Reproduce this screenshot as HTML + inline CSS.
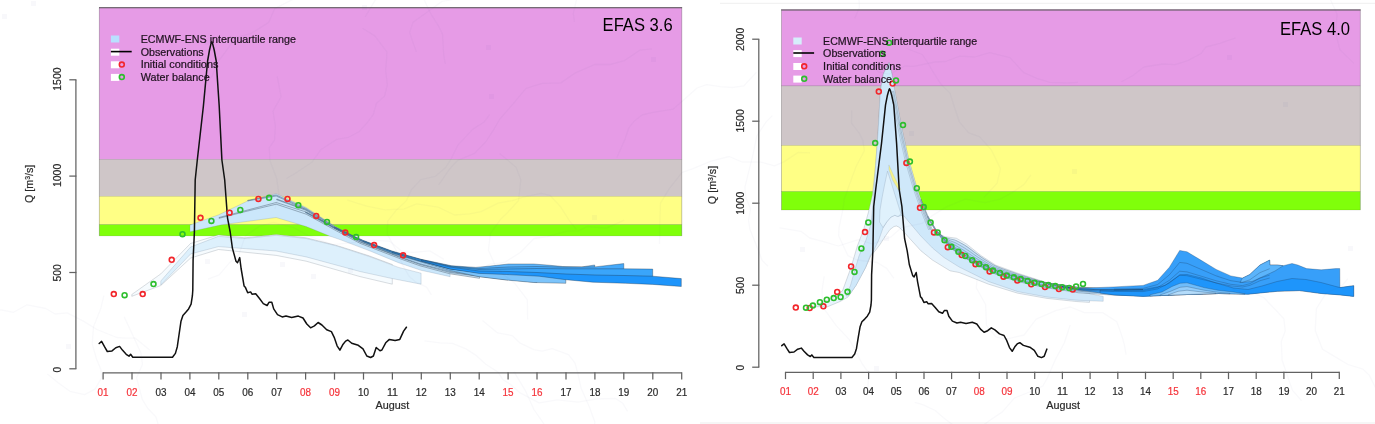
<!DOCTYPE html>
<html lang="en"><head><meta charset="utf-8"><title>EFAS 3.6 vs EFAS 4.0</title>
<style>html,body{margin:0;padding:0;background:#fff}svg{display:block;will-change:transform;opacity:0.999}text{font-family:"Liberation Sans",Arial,Helvetica,sans-serif;font-size:10px}</style>
</head><body>
<svg width="1375" height="424" viewBox="0 0 1375 424">
<rect width="1375" height="424" fill="#fff"/>
<!--MAPBG-->
<g id="left-panel">
<rect x="99.3" y="7.4" width="582.5" height="152.1" fill="#E69BE6" stroke="#000" stroke-opacity="0.17" stroke-width="0.6"/>
<rect x="99.3" y="159.5" width="582.5" height="36.8" fill="#CFC6C8" stroke="#000" stroke-opacity="0.17" stroke-width="0.6"/>
<rect x="99.3" y="196.3" width="582.5" height="28.3" fill="#FFFF85" stroke="#000" stroke-opacity="0.17" stroke-width="0.6"/>
<rect x="99.3" y="224.6" width="582.5" height="11.3" fill="#80FF0A" stroke="#000" stroke-opacity="0.17" stroke-width="0.6"/>
<line x1="99.0" y1="7.800000000000001" x2="682.0999999999999" y2="7.800000000000001" stroke="#555" stroke-width="1.1"/>
<line x1="681.8" y1="7.4" x2="681.8" y2="235.9" stroke="#555" stroke-opacity="0.35" stroke-width="0.6"/>
<line x1="99.3" y1="7.4" x2="99.3" y2="235.9" stroke="#555" stroke-opacity="0.35" stroke-width="0.6"/>
<polygon points="131.8,294.5 160.8,273.9 190.5,243.5 218.5,234.9 244.8,237.8 276.2,234.6 306.2,237.8 335.4,245.2 340.0,246.5 369.0,255.8 392.3,264.5 392.3,284.2 360.0,276.6 306.2,261.2 276.2,255.4 218.5,249.5 190.7,258.0 160.8,285.5 131.8,296.3" fill="#F6FBFE" stroke="#8a949c" stroke-width="0.4" stroke-opacity="0.8" stroke-linejoin="round"/>
<polygon points="160.8,281.0 190.5,247.1 218.5,236.3 244.8,238.5 276.2,235.3 306.2,238.5 335.4,245.6 340.0,247.0 369.0,256.4 398.5,267.4 421.1,273.2 421.1,284.2 392.0,278.5 360.0,271.5 306.2,256.9 276.2,251.0 218.5,246.6 190.7,253.9 160.8,285.0" fill="#DDF0FC" stroke="#6b7f94" stroke-width="0.4" stroke-opacity="0.55" stroke-linejoin="round"/>
<polygon points="190.0,225.1 218.5,214.9 247.7,201.0 276.2,193.7 306.2,207.5 335.4,226.5 360.0,239.7 374.1,245.0 402.9,255.3 420.0,259.3 450.1,266.0 450.1,276.7 430.0,272.2 421.0,270.3 398.5,262.7 369.0,250.6 340.0,239.6 329.6,236.0 306.2,226.5 276.2,217.5 221.4,224.8 190.0,231.7" fill="#CBE7FB" stroke="#6b7f94" stroke-width="0.4" stroke-opacity="0.55" stroke-linejoin="round"/>
<polygon points="219.0,217.5 247.7,210.0 276.2,202.5 306.2,212.0 335.4,228.0 360.0,240.5 403.0,256.0 420.0,260.5 450.0,267.5 479.5,270.0 479.5,278.3 450.0,273.8 420.0,265.8 403.0,259.8 360.0,243.3 335.4,230.3 306.2,214.2 276.2,204.2 247.7,211.0 219.0,218.3" fill="#CBE7FB" stroke="#1c2a3a" stroke-width="0.45" stroke-opacity="0.75" stroke-linejoin="round"/>
<polygon points="247.7,200.3 276.2,195.0 306.2,208.5 335.4,227.0 360.0,240.0 403.0,255.8 420.0,260.3 450.0,267.0 479.5,270.0 508.0,270.0 508.0,280.0 479.5,276.5 450.0,272.5 420.0,264.5 403.0,258.5 360.0,242.0 335.4,228.6 306.2,209.8 276.2,196.0 247.7,200.9" fill="#B4DCFB" stroke="#1c2a3a" stroke-width="0.45" stroke-opacity="0.75" stroke-linejoin="round"/>
<polygon points="276.7,199.0 306.2,209.5 335.4,227.5 360.0,240.3 403.0,255.8 420.0,260.0 450.0,267.0 479.5,269.5 508.0,269.0 537.0,270.0 537.0,282.5 508.0,279.5 479.5,276.0 450.0,271.5 420.0,263.8 403.0,258.0 360.0,241.6 335.4,228.6 306.2,210.4 276.7,199.7" fill="#B4DCFB" stroke="#1c2a3a" stroke-width="0.45" stroke-opacity="0.75" stroke-linejoin="round"/>
<polygon points="305.6,212.0 335.0,228.0 363.5,241.0 392.0,252.0 421.0,260.0 450.0,267.0 479.0,270.0 508.0,270.0 537.0,271.0 565.8,272.0 565.8,283.3 533.6,282.5 506.3,280.0 479.0,276.7 450.0,270.5 421.0,262.0 392.0,253.4 363.5,242.0 335.0,228.8 305.6,212.6" fill="#7CC4FB" stroke="#1c2a3a" stroke-width="0.45" stroke-opacity="0.75" stroke-linejoin="round"/>
<polygon points="334.5,227.0 363.5,240.5 392.0,251.0 421.0,259.3 451.8,265.8 475.8,267.4 490.0,266.1 508.5,264.0 533.6,264.0 550.0,265.3 562.6,266.5 581.8,266.9 594.7,265.0 594.7,272.0 566.0,271.5 537.0,270.0 508.0,270.0 479.0,271.0 450.0,268.5 421.0,261.0 392.0,252.0 363.5,241.3 334.5,227.6" fill="#5BB4FB" stroke="#1c2a3a" stroke-width="0.45" stroke-opacity="0.75" stroke-linejoin="round"/>
<polygon points="363.5,241.0 392.0,251.5 421.0,259.5 450.0,266.0 479.0,268.5 508.0,267.0 537.0,266.5 566.0,267.2 594.7,266.9 623.8,263.6 623.8,273.0 594.7,273.0 566.0,272.5 537.0,271.5 508.0,271.5 479.0,272.0 450.0,268.8 421.0,261.0 392.0,252.4 363.5,241.7" fill="#45A9FA" stroke="#1c2a3a" stroke-width="0.45" stroke-opacity="0.75" stroke-linejoin="round"/>
<polygon points="392.4,252.0 421.0,260.0 450.0,266.5 479.0,269.5 508.0,269.0 537.0,268.5 566.0,268.8 595.0,268.8 623.8,268.8 652.7,269.1 652.7,277.5 623.8,277.0 595.0,276.5 566.0,275.5 537.0,274.0 508.0,273.0 479.0,272.5 450.0,268.8 421.0,261.2 392.4,252.7" fill="#3AA5FA" stroke="#1c2a3a" stroke-width="0.45" stroke-opacity="0.75" stroke-linejoin="round"/>
<polygon points="421.3,260.0 450.0,267.0 479.0,271.0 508.0,271.5 537.0,272.5 566.0,274.0 595.0,275.0 624.0,275.5 652.7,276.2 681.3,278.6 681.3,286.5 652.7,284.4 625.4,283.3 592.7,282.2 565.8,279.7 539.0,276.2 506.3,274.5 479.1,273.4 450.0,269.0 421.3,260.8" fill="#1E95FB" stroke="#1c2a3a" stroke-width="0.45" stroke-opacity="0.75" stroke-linejoin="round"/>
<polyline points="99.2,343.5 101.6,341.4 104.5,346.7 107.3,351.5 112.0,350.9 115.8,347.7 119.6,346.4 122.4,350.1 126.2,354.3 129.0,356.2 130.6,354.3 132.8,357.3 172.5,357.3 175.4,353.4 177.3,346.7 179.2,333.5 181.0,321.2 182.9,315.5 185.8,312.3 188.6,308.9 191.1,304.2 192.4,295.7 192.8,290.0 193.1,260.0 194.4,232.0 195.2,180.0 197.3,160.0 203.4,106.0 207.6,61.0 209.5,50.0 211.0,43.6 211.8,41.7 212.6,43.6 214.2,50.0 216.2,61.0 219.2,106.0 221.9,160.0 224.7,180.0 227.5,217.8 230.2,232.0 232.4,248.1 236.0,261.2 237.5,262.7 239.7,257.6 241.1,268.5 244.1,286.1 245.5,287.6 247.7,292.7 250.6,291.9 252.0,294.2 255.7,293.8 259.5,298.5 263.3,303.6 267.1,305.5 269.0,302.3 271.8,302.3 273.7,308.9 277.5,314.6 282.2,316.9 286.0,316.1 291.7,317.4 298.3,316.1 303.0,318.0 306.8,324.0 310.6,327.8 314.4,325.9 318.1,322.5 321.9,325.0 326.7,329.7 331.4,331.6 334.2,337.3 337.1,345.8 339.9,350.1 342.7,344.8 345.6,341.1 347.9,340.0 351.7,343.2 358.3,345.3 363.0,348.9 366.8,356.0 370.6,357.5 373.4,356.0 376.2,347.5 380.0,350.8 381.9,350.0 385.7,342.8 389.4,339.4 395.1,340.6 399.8,339.4 403.6,331.1 406.4,327.2" fill="none" stroke="#111" stroke-width="1.5" stroke-linejoin="round" stroke-linecap="round"/>
<circle cx="113.8" cy="294.1" r="2.45" fill="none" stroke="#F2262B" stroke-width="1.6"/>
<circle cx="142.7" cy="294.1" r="2.45" fill="none" stroke="#F2262B" stroke-width="1.6"/>
<circle cx="171.7" cy="259.8" r="2.45" fill="none" stroke="#F2262B" stroke-width="1.6"/>
<circle cx="200.5" cy="217.8" r="2.45" fill="none" stroke="#F2262B" stroke-width="1.6"/>
<circle cx="229.6" cy="212.7" r="2.45" fill="none" stroke="#F2262B" stroke-width="1.6"/>
<circle cx="258.4" cy="198.9" r="2.45" fill="none" stroke="#F2262B" stroke-width="1.6"/>
<circle cx="287.5" cy="198.9" r="2.45" fill="none" stroke="#F2262B" stroke-width="1.6"/>
<circle cx="316.2" cy="215.9" r="2.45" fill="none" stroke="#F2262B" stroke-width="1.6"/>
<circle cx="345.3" cy="232.6" r="2.45" fill="none" stroke="#F2262B" stroke-width="1.6"/>
<circle cx="374.1" cy="245.1" r="2.45" fill="none" stroke="#F2262B" stroke-width="1.6"/>
<circle cx="403.1" cy="255.3" r="2.45" fill="none" stroke="#F2262B" stroke-width="1.6"/>
<circle cx="124.6" cy="295.2" r="2.45" fill="none" stroke="#2DBE2D" stroke-width="1.6"/>
<circle cx="153.5" cy="284.1" r="2.45" fill="none" stroke="#2DBE2D" stroke-width="1.6"/>
<circle cx="182.5" cy="234.2" r="2.45" fill="none" stroke="#2DBE2D" stroke-width="1.6"/>
<circle cx="211.4" cy="220.9" r="2.45" fill="none" stroke="#2DBE2D" stroke-width="1.6"/>
<circle cx="240.3" cy="209.9" r="2.45" fill="none" stroke="#2DBE2D" stroke-width="1.6"/>
<circle cx="269.1" cy="197.8" r="2.45" fill="none" stroke="#2DBE2D" stroke-width="1.6"/>
<circle cx="298.3" cy="205.2" r="2.45" fill="none" stroke="#2DBE2D" stroke-width="1.6"/>
<circle cx="327.0" cy="222.0" r="2.45" fill="none" stroke="#2DBE2D" stroke-width="1.6"/>
<circle cx="356.1" cy="236.9" r="2.45" fill="none" stroke="#2DBE2D" stroke-width="1.6"/>
<rect x="110.9" y="35.5" width="8.4" height="7" fill="#B9E0FF"/>
<text x="140.7" y="42.5" textLength="155.2" lengthAdjust="spacingAndGlyphs" fill="#1f121f" stroke="#1f121f" stroke-width="0.2">ECMWF-ENS interquartile range</text>
<rect x="110.9" y="48.7" width="8.4" height="7" fill="#fff"/>
<text x="140.7" y="55.7" textLength="63.0" lengthAdjust="spacingAndGlyphs" fill="#1f121f" stroke="#1f121f" stroke-width="0.2">Observations</text>
<rect x="110.9" y="61.3" width="8.4" height="7" fill="#fff"/>
<text x="140.7" y="68.3" textLength="77.8" lengthAdjust="spacingAndGlyphs" fill="#1f121f" stroke="#1f121f" stroke-width="0.2">Initial conditions</text>
<rect x="110.9" y="73.9" width="8.4" height="7" fill="#fff"/>
<text x="140.7" y="80.9" textLength="69.0" lengthAdjust="spacingAndGlyphs" fill="#1f121f" stroke="#1f121f" stroke-width="0.2">Water balance</text>
<path d="M110.9 51.6h20.8" stroke="#000" stroke-width="1.6" fill="none"/>
<circle cx="121.8" cy="64.6" r="2.45" fill="none" stroke="#F2262B" stroke-width="1.6"/>
<circle cx="121.8" cy="77.1" r="2.45" fill="none" stroke="#2DBE2D" stroke-width="1.6"/>
<path d="M75.9 368.8V79.8" stroke="#626262" stroke-width="1.25" fill="none"/>
<path d="M69.3 368.8H76.4" stroke="#626262" stroke-width="1.25" fill="none"/>
<text transform="translate(61.2,369.7) rotate(-90)" text-anchor="middle" textLength="5.6" lengthAdjust="spacingAndGlyphs" fill="#2b2b2b" stroke="#2b2b2b" stroke-width="0.2">0</text>
<path d="M69.3 272.5H76.4" stroke="#626262" stroke-width="1.25" fill="none"/>
<text transform="translate(61.2,272.9) rotate(-90)" text-anchor="middle" textLength="17.2" lengthAdjust="spacingAndGlyphs" fill="#2b2b2b" stroke="#2b2b2b" stroke-width="0.2">500</text>
<path d="M69.3 176.1H76.4" stroke="#626262" stroke-width="1.25" fill="none"/>
<text transform="translate(61.2,175.4) rotate(-90)" text-anchor="middle" textLength="23.2" lengthAdjust="spacingAndGlyphs" fill="#2b2b2b" stroke="#2b2b2b" stroke-width="0.2">1000</text>
<path d="M69.3 79.8H76.4" stroke="#626262" stroke-width="1.25" fill="none"/>
<text transform="translate(61.2,79.1) rotate(-90)" text-anchor="middle" textLength="23.2" lengthAdjust="spacingAndGlyphs" fill="#2b2b2b" stroke="#2b2b2b" stroke-width="0.2">1500</text>
<text transform="translate(33.2,183.9) rotate(-90)" text-anchor="middle" textLength="38.4" lengthAdjust="spacingAndGlyphs" fill="#2b2b2b" stroke="#2b2b2b" stroke-width="0.2">Q [m<tspan font-size="6.3" dy="-3.6">3</tspan><tspan dy="3.6">/s]</tspan></text>
<path d="M103.1 372.8H681.7" stroke="#626262" stroke-width="1.25" fill="none"/>
<path d="M103.1 372.3V379.6" stroke="#626262" stroke-width="1.25" fill="none"/>
<text x="103.1" y="396.3" text-anchor="middle" textLength="11" lengthAdjust="spacingAndGlyphs" fill="#F5333A" stroke="#F5333A" stroke-width="0.2">01</text>
<path d="M132.0 372.3V379.6" stroke="#626262" stroke-width="1.25" fill="none"/>
<text x="132.0" y="396.3" text-anchor="middle" textLength="11" lengthAdjust="spacingAndGlyphs" fill="#F5333A" stroke="#F5333A" stroke-width="0.2">02</text>
<path d="M161.0 372.3V379.6" stroke="#626262" stroke-width="1.25" fill="none"/>
<text x="161.0" y="396.3" text-anchor="middle" textLength="11" lengthAdjust="spacingAndGlyphs" fill="#2b2b2b" stroke="#2b2b2b" stroke-width="0.2">03</text>
<path d="M189.9 372.3V379.6" stroke="#626262" stroke-width="1.25" fill="none"/>
<text x="189.9" y="396.3" text-anchor="middle" textLength="11" lengthAdjust="spacingAndGlyphs" fill="#2b2b2b" stroke="#2b2b2b" stroke-width="0.2">04</text>
<path d="M218.8 372.3V379.6" stroke="#626262" stroke-width="1.25" fill="none"/>
<text x="218.8" y="396.3" text-anchor="middle" textLength="11" lengthAdjust="spacingAndGlyphs" fill="#2b2b2b" stroke="#2b2b2b" stroke-width="0.2">05</text>
<path d="M247.8 372.3V379.6" stroke="#626262" stroke-width="1.25" fill="none"/>
<text x="247.8" y="396.3" text-anchor="middle" textLength="11" lengthAdjust="spacingAndGlyphs" fill="#2b2b2b" stroke="#2b2b2b" stroke-width="0.2">06</text>
<path d="M276.7 372.3V379.6" stroke="#626262" stroke-width="1.25" fill="none"/>
<text x="276.7" y="396.3" text-anchor="middle" textLength="11" lengthAdjust="spacingAndGlyphs" fill="#2b2b2b" stroke="#2b2b2b" stroke-width="0.2">07</text>
<path d="M305.6 372.3V379.6" stroke="#626262" stroke-width="1.25" fill="none"/>
<text x="305.6" y="396.3" text-anchor="middle" textLength="11" lengthAdjust="spacingAndGlyphs" fill="#F5333A" stroke="#F5333A" stroke-width="0.2">08</text>
<path d="M334.5 372.3V379.6" stroke="#626262" stroke-width="1.25" fill="none"/>
<text x="334.5" y="396.3" text-anchor="middle" textLength="11" lengthAdjust="spacingAndGlyphs" fill="#F5333A" stroke="#F5333A" stroke-width="0.2">09</text>
<path d="M363.5 372.3V379.6" stroke="#626262" stroke-width="1.25" fill="none"/>
<text x="363.5" y="396.3" text-anchor="middle" textLength="11" lengthAdjust="spacingAndGlyphs" fill="#2b2b2b" stroke="#2b2b2b" stroke-width="0.2">10</text>
<path d="M392.4 372.3V379.6" stroke="#626262" stroke-width="1.25" fill="none"/>
<text x="392.4" y="396.3" text-anchor="middle" textLength="11" lengthAdjust="spacingAndGlyphs" fill="#2b2b2b" stroke="#2b2b2b" stroke-width="0.2">11</text>
<path d="M421.3 372.3V379.6" stroke="#626262" stroke-width="1.25" fill="none"/>
<text x="421.3" y="396.3" text-anchor="middle" textLength="11" lengthAdjust="spacingAndGlyphs" fill="#2b2b2b" stroke="#2b2b2b" stroke-width="0.2">12</text>
<path d="M450.3 372.3V379.6" stroke="#626262" stroke-width="1.25" fill="none"/>
<text x="450.3" y="396.3" text-anchor="middle" textLength="11" lengthAdjust="spacingAndGlyphs" fill="#2b2b2b" stroke="#2b2b2b" stroke-width="0.2">13</text>
<path d="M479.2 372.3V379.6" stroke="#626262" stroke-width="1.25" fill="none"/>
<text x="479.2" y="396.3" text-anchor="middle" textLength="11" lengthAdjust="spacingAndGlyphs" fill="#2b2b2b" stroke="#2b2b2b" stroke-width="0.2">14</text>
<path d="M508.1 372.3V379.6" stroke="#626262" stroke-width="1.25" fill="none"/>
<text x="508.1" y="396.3" text-anchor="middle" textLength="11" lengthAdjust="spacingAndGlyphs" fill="#F5333A" stroke="#F5333A" stroke-width="0.2">15</text>
<path d="M537.0 372.3V379.6" stroke="#626262" stroke-width="1.25" fill="none"/>
<text x="537.0" y="396.3" text-anchor="middle" textLength="11" lengthAdjust="spacingAndGlyphs" fill="#F5333A" stroke="#F5333A" stroke-width="0.2">16</text>
<path d="M566.0 372.3V379.6" stroke="#626262" stroke-width="1.25" fill="none"/>
<text x="566.0" y="396.3" text-anchor="middle" textLength="11" lengthAdjust="spacingAndGlyphs" fill="#2b2b2b" stroke="#2b2b2b" stroke-width="0.2">17</text>
<path d="M594.9 372.3V379.6" stroke="#626262" stroke-width="1.25" fill="none"/>
<text x="594.9" y="396.3" text-anchor="middle" textLength="11" lengthAdjust="spacingAndGlyphs" fill="#2b2b2b" stroke="#2b2b2b" stroke-width="0.2">18</text>
<path d="M623.8 372.3V379.6" stroke="#626262" stroke-width="1.25" fill="none"/>
<text x="623.8" y="396.3" text-anchor="middle" textLength="11" lengthAdjust="spacingAndGlyphs" fill="#2b2b2b" stroke="#2b2b2b" stroke-width="0.2">19</text>
<path d="M652.8 372.3V379.6" stroke="#626262" stroke-width="1.25" fill="none"/>
<text x="652.8" y="396.3" text-anchor="middle" textLength="11" lengthAdjust="spacingAndGlyphs" fill="#2b2b2b" stroke="#2b2b2b" stroke-width="0.2">20</text>
<path d="M681.7 372.3V379.6" stroke="#626262" stroke-width="1.25" fill="none"/>
<text x="681.7" y="396.3" text-anchor="middle" textLength="11" lengthAdjust="spacingAndGlyphs" fill="#2b2b2b" stroke="#2b2b2b" stroke-width="0.2">21</text>
<text x="392.4" y="409.0" text-anchor="middle" textLength="33.6" lengthAdjust="spacingAndGlyphs" fill="#2b2b2b" stroke="#2b2b2b" stroke-width="0.2">August</text>
<text x="602.6" y="31.2" textLength="70" lengthAdjust="spacingAndGlyphs" style="font-size:18px" stroke="none" fill="#000">EFAS 3.6</text>
</g>
<g id="right-panel">
<rect x="781.5" y="9.6" width="578.8" height="76.3" fill="#E69BE6" stroke="#000" stroke-opacity="0.17" stroke-width="0.6"/>
<rect x="781.5" y="85.9" width="578.8" height="59.5" fill="#CFC6C8" stroke="#000" stroke-opacity="0.17" stroke-width="0.6"/>
<rect x="781.5" y="145.4" width="578.8" height="46.1" fill="#FFFF85" stroke="#000" stroke-opacity="0.17" stroke-width="0.6"/>
<rect x="781.5" y="191.5" width="578.8" height="18.5" fill="#80FF0A" stroke="#000" stroke-opacity="0.17" stroke-width="0.6"/>
<line x1="781.2" y1="10.0" x2="1360.6" y2="10.0" stroke="#555" stroke-width="1.1"/>
<line x1="1360.3" y1="9.6" x2="1360.3" y2="210.0" stroke="#555" stroke-opacity="0.35" stroke-width="0.6"/>
<line x1="781.5" y1="9.6" x2="781.5" y2="210.0" stroke="#555" stroke-opacity="0.35" stroke-width="0.6"/>
<polygon points="812.7,306.7 831.8,298.2 842.5,290.8 851.0,267.5 857.3,246.2 863.7,229.2 868.5,212.0 872.4,195.0 875.6,165.4 878.2,130.0 880.4,90.8 883.4,73.9 889.1,62.5 891.9,73.9 894.7,90.8 900.4,121.0 903.2,135.0 909.0,160.7 917.2,189.0 925.5,212.5 932.5,230.0 944.6,236.7 956.3,238.2 966.5,244.0 981.2,255.7 995.8,265.2 1017.7,273.2 1047.0,282.7 1079.0,288.0 1089.5,290.0 1089.5,302.4 1076.2,301.5 1047.0,298.4 1017.7,293.2 988.5,284.2 959.2,272.5 950.0,270.8 932.5,260.1 920.8,250.7 909.0,237.7 903.0,231.0 899.0,227.2 896.5,226.0 894.0,226.5 890.0,229.5 885.4,236.0 880.0,244.5 875.0,251.0 870.8,255.9 865.5,267.7 856.0,285.4 847.8,297.2 840.3,301.4 827.6,306.7" fill="#E8F4FD" stroke="#8a949c" stroke-width="0.4" stroke-opacity="0.8" stroke-linejoin="round"/>
<polygon points="846.0,296.0 850.5,285.4 855.5,267.7 859.0,256.0 862.4,248.0 866.0,240.0 868.5,232.0 871.0,224.0 872.4,210.2 875.6,165.4 878.2,130.0 880.4,90.8 883.4,73.9 889.1,62.5 891.9,73.9 894.7,90.8 900.4,121.0 903.2,135.0 909.0,160.7 917.2,189.0 925.5,212.5 932.5,230.0 944.6,238.5 956.3,240.5 966.5,246.0 981.2,257.0 995.8,266.2 1017.7,274.2 1047.0,283.2 1062.0,286.2 1079.0,291.5 1103.2,296.4 1103.2,301.3 1076.2,300.2 1047.0,297.0 1017.7,291.6 988.5,281.5 959.2,267.0 944.0,257.5 932.5,248.0 920.8,236.0 909.0,222.0 904.0,216.0 901.0,215.5 898.0,216.5 894.8,215.3 891.0,217.0 887.0,221.5 883.0,228.0 878.9,239.7 874.0,250.0 870.2,255.9 865.5,267.7 856.0,285.4 849.0,295.5" fill="#CFE8FA" stroke="#6b7f94" stroke-width="0.4" stroke-opacity="0.55" stroke-linejoin="round"/>
<polygon points="887.5,171.2 891.0,182.0 895.0,195.0 898.5,206.0 901.0,214.0 898.0,216.5 894.8,215.3 891.0,217.0 887.0,221.5 883.0,227.5 879.5,222.0 880.0,210.0 882.0,198.0 884.5,185.0" fill="#DFF1FC" stroke="#6b7f94" stroke-width="0.4" stroke-opacity="0.55" stroke-linejoin="round"/>
<polygon points="888.9,164.9 894.0,176.0 900.7,189.5 898.5,190.0 892.5,180.0 888.9,169.5" fill="#F3F08A" stroke="#8a949c" stroke-width="0.3" stroke-opacity="0.6"/>
<polygon points="936.0,231.6 940.8,234.8 945.5,237.6 950.3,238.9 955.1,240.1 959.8,242.5 964.6,245.2 969.4,248.5 974.1,252.1 978.9,255.6 983.7,258.9 988.4,261.8 993.2,264.8 998.0,267.1 1002.7,268.9 1007.5,270.6 1012.3,272.2 1017.0,273.9 1021.8,275.4 1026.6,276.8 1031.3,278.3 1036.1,279.7 1040.9,281.2 1045.6,282.6 1050.4,283.5 1055.2,284.3 1059.9,285.1 1064.7,285.8 1069.5,286.6 1074.2,287.4 1079.0,288.1 1079.0,289.2 1074.2,288.5 1069.5,287.8 1064.7,287.1 1059.9,286.4 1055.2,285.8 1050.4,285.2 1045.6,284.5 1040.9,283.6 1036.1,282.7 1031.3,281.7 1026.6,280.7 1021.8,279.8 1017.0,278.5 1012.3,277.3 1007.5,276.0 1002.7,274.4 998.0,272.7 993.2,271.1 988.4,268.8 983.7,266.5 978.9,264.1 974.1,261.6 969.4,258.9 964.6,256.0 959.8,253.1 955.1,249.9 950.3,246.2 945.5,241.6 940.8,236.5 936.0,230.5" fill="#C3E1F9" stroke="#1c2a3a" stroke-width="0.4" stroke-opacity="0.6" stroke-linejoin="round"/>
<polygon points="936.0,231.2 940.8,235.2 945.5,238.6 950.3,240.8 955.1,242.6 959.8,245.2 964.6,248.0 969.4,251.2 974.1,254.5 978.9,257.8 983.7,260.8 988.4,263.6 993.2,266.4 998.0,268.5 1002.7,270.2 1007.5,271.9 1012.3,273.5 1017.0,275.0 1021.8,276.5 1026.6,277.8 1031.3,279.1 1036.1,280.4 1040.9,281.7 1045.6,283.0 1050.4,283.9 1055.2,284.6 1059.9,285.3 1064.7,286.0 1069.5,286.8 1074.2,287.6 1079.0,288.3 1079.0,289.2 1074.2,288.5 1069.5,287.8 1064.7,287.1 1059.9,286.4 1055.2,285.8 1050.4,285.2 1045.6,284.5 1040.9,283.6 1036.1,282.7 1031.3,281.7 1026.6,280.7 1021.8,279.8 1017.0,278.5 1012.3,277.3 1007.5,276.0 1002.7,274.4 998.0,272.7 993.2,271.1 988.4,268.8 983.7,266.5 978.9,264.1 974.1,261.6 969.4,258.9 964.6,256.0 959.8,253.1 955.1,249.9 950.3,246.2 945.5,241.6 940.8,236.5 936.0,230.5" fill="#B7DBF8" stroke="#1c2a3a" stroke-width="0.4" stroke-opacity="0.6" stroke-linejoin="round"/>
<polygon points="936.0,230.8 940.8,235.5 945.5,239.5 950.3,242.6 955.1,245.1 959.8,247.9 964.6,250.8 969.4,253.9 974.1,257.0 978.9,260.0 983.7,262.7 988.4,265.4 993.2,268.0 998.0,269.9 1002.7,271.6 1007.5,273.3 1012.3,274.7 1017.0,276.2 1021.8,277.5 1026.6,278.7 1031.3,279.9 1036.1,281.1 1040.9,282.2 1045.6,283.4 1050.4,284.2 1055.2,284.9 1059.9,285.6 1064.7,286.3 1069.5,287.0 1074.2,287.8 1079.0,288.5 1079.0,289.2 1074.2,288.5 1069.5,287.8 1064.7,287.1 1059.9,286.4 1055.2,285.8 1050.4,285.2 1045.6,284.5 1040.9,283.6 1036.1,282.7 1031.3,281.7 1026.6,280.7 1021.8,279.8 1017.0,278.5 1012.3,277.3 1007.5,276.0 1002.7,274.4 998.0,272.7 993.2,271.1 988.4,268.8 983.7,266.5 978.9,264.1 974.1,261.6 969.4,258.9 964.6,256.0 959.8,253.1 955.1,249.9 950.3,246.2 945.5,241.6 940.8,236.5 936.0,230.5" fill="#ABD5F7" stroke="#1c2a3a" stroke-width="0.4" stroke-opacity="0.6" stroke-linejoin="round"/>
<polygon points="936.0,230.5 940.8,235.8 945.5,240.4 950.3,244.3 955.1,247.4 959.8,250.4 964.6,253.3 969.4,256.3 974.1,259.2 978.9,262.0 983.7,264.5 988.4,267.0 993.2,269.4 998.0,271.2 1002.7,272.9 1007.5,274.5 1012.3,275.8 1017.0,277.2 1021.8,278.5 1026.6,279.6 1031.3,280.7 1036.1,281.7 1040.9,282.7 1045.6,283.8 1050.4,284.6 1055.2,285.2 1059.9,285.8 1064.7,286.5 1069.5,287.2 1074.2,287.9 1079.0,288.7 1079.0,289.2 1074.2,288.5 1069.5,287.8 1064.7,287.1 1059.9,286.4 1055.2,285.8 1050.4,285.2 1045.6,284.5 1040.9,283.6 1036.1,282.7 1031.3,281.7 1026.6,280.7 1021.8,279.8 1017.0,278.5 1012.3,277.3 1007.5,276.0 1002.7,274.4 998.0,272.7 993.2,271.1 988.4,268.8 983.7,266.5 978.9,264.1 974.1,261.6 969.4,258.9 964.6,256.0 959.8,253.1 955.1,249.9 950.3,246.2 945.5,241.6 940.8,236.5 936.0,230.5" fill="#9FCFF6" stroke="#1c2a3a" stroke-width="0.4" stroke-opacity="0.6" stroke-linejoin="round"/>
<polygon points="921.0,199.4 928.5,217.4 936.0,229.7 943.5,238.6 951.0,245.9 958.5,251.3 966.0,255.8 973.5,260.2 981.0,264.0 988.5,267.6 996.0,270.8 1003.5,273.3 1011.0,275.5 1018.5,277.4 1026.0,279.1 1033.5,280.6 1041.0,281.9 1048.5,283.3 1056.0,284.1 1063.5,285.0 1071.0,286.1 1078.5,287.2 1086.0,287.5 1093.5,287.8 1101.0,288.1 1108.5,288.4 1116.0,288.6 1123.5,288.6 1131.0,288.5 1131.0,295.5 1123.5,295.4 1116.0,295.2 1108.5,294.8 1101.0,294.3 1093.5,293.8 1086.0,293.3 1078.5,292.8 1071.0,291.5 1063.5,290.3 1056.0,289.2 1048.5,288.2 1041.0,286.6 1033.5,285.1 1026.0,283.4 1018.5,281.6 1011.0,279.4 1003.5,277.0 996.0,274.3 988.5,270.9 981.0,267.1 973.5,263.1 966.0,258.6 958.5,253.8 951.0,248.3 943.5,240.8 936.0,231.7 928.5,219.2 921.0,201.0" fill="#BBDDF8" stroke="#1c2a3a" stroke-width="0.4" stroke-opacity="0.65" stroke-linejoin="round"/>
<polygon points="928.0,216.3 936.2,230.1 944.4,239.7 952.6,247.4 960.9,252.8 969.1,257.8 977.3,262.3 985.5,266.4 993.7,270.2 1001.9,273.0 1010.1,275.6 1018.4,277.7 1026.6,279.5 1034.8,281.2 1043.0,282.7 1051.2,284.0 1059.4,285.0 1067.6,286.1 1075.9,287.3 1084.1,287.9 1092.3,288.3 1100.5,288.6 1108.7,289.0 1116.9,289.2 1125.1,289.2 1133.4,289.1 1141.6,289.1 1149.8,289.0 1158.0,289.0 1158.0,294.0 1149.8,293.9 1141.6,293.8 1133.4,293.7 1125.1,293.6 1116.9,293.5 1108.7,293.2 1100.5,292.7 1092.3,292.2 1084.1,291.7 1075.9,290.9 1067.6,289.6 1059.4,288.3 1051.2,287.2 1043.0,285.8 1034.8,284.2 1026.6,282.4 1018.4,280.4 1010.1,278.1 1001.9,275.5 993.7,272.5 985.5,268.5 977.3,264.4 969.1,259.7 960.9,254.6 952.6,249.0 944.4,241.2 936.2,231.4 928.0,217.5" fill="#A9D4F7" stroke="#1c2a3a" stroke-width="0.4" stroke-opacity="0.65" stroke-linejoin="round"/>
<polygon points="936.0,229.6 944.4,239.6 952.9,247.4 961.3,253.0 969.7,258.1 978.1,262.7 986.6,266.8 995.0,270.6 1003.4,273.5 1011.9,275.9 1020.3,278.2 1028.7,279.9 1037.1,281.6 1045.6,283.1 1054.0,284.3 1062.4,285.3 1070.9,286.5 1079.3,287.7 1087.7,288.1 1096.1,288.5 1104.6,288.8 1113.0,289.2 1121.4,289.2 1129.9,289.2 1138.3,289.1 1146.7,289.1 1155.1,289.1 1163.6,289.0 1172.0,289.0 1172.0,293.0 1163.6,292.9 1155.1,292.9 1146.7,292.8 1138.3,292.7 1129.9,292.6 1121.4,292.6 1113.0,292.5 1104.6,292.0 1096.1,291.5 1087.7,291.0 1079.3,290.5 1070.9,289.2 1062.4,287.9 1054.0,286.8 1045.6,285.5 1037.1,283.9 1028.7,282.1 1020.3,280.2 1011.9,277.9 1003.4,275.3 995.0,272.3 986.6,268.4 978.1,264.2 969.7,259.5 961.3,254.3 952.9,248.6 944.4,240.7 936.0,230.6" fill="#98CBF6" stroke="#1c2a3a" stroke-width="0.4" stroke-opacity="0.65" stroke-linejoin="round"/>
<polyline points="893.5,90.8 899.2,121.0 902.0,135.0 907.8,160.7 916.0,189.0 924.3,212.5 931.3,230.0" fill="none" stroke="#1c2a3a" stroke-opacity="0.55" stroke-width="0.45"/>
<polyline points="892.3,90.8 898.0,121.0 900.8,135.0 906.6,160.7 914.8,189.0 923.1,212.5 930.1,230.0" fill="none" stroke="#1c2a3a" stroke-opacity="0.45" stroke-width="0.45"/>
<polyline points="890.9,90.8 896.6,121.0 899.4,135.0 905.2,160.7 913.4,189.0 921.7,212.5 928.7,230.0" fill="none" stroke="#1c2a3a" stroke-opacity="0.35" stroke-width="0.45"/>
<polygon points="1062.0,286.0 1078.8,288.4 1113.9,286.9 1143.1,285.4 1157.7,280.3 1169.4,267.2 1179.7,250.4 1187.0,251.8 1201.6,260.6 1216.2,269.4 1230.8,275.9 1242.5,278.1 1249.8,274.5 1260.0,265.0 1269.7,260.1 1269.9,265.0 1277.3,265.0 1283.2,265.7 1292.0,263.5 1297.8,265.0 1306.6,268.6 1321.2,269.8 1335.8,268.6 1339.8,268.6 1339.9,287.6 1353.7,285.7 1353.7,296.4 1340.2,294.9 1321.2,293.5 1299.3,290.6 1277.3,291.3 1262.7,292.7 1248.1,294.2 1218.9,293.5 1175.0,294.9 1143.1,296.4 1113.9,294.9 1078.8,289.8 1062.0,287.0" fill="#379FF9" stroke="#16324f" stroke-width="0.45" stroke-opacity="0.6" stroke-linejoin="round"/>
<polygon points="1100.0,290.2 1143.0,289.5 1165.0,285.5 1180.0,274.8 1187.0,274.5 1201.6,278.0 1216.2,283.0 1233.5,288.0 1248.0,289.5 1262.0,286.0 1277.0,281.5 1292.0,278.5 1306.0,279.5 1321.0,282.5 1339.9,287.6 1353.7,285.7 1353.7,296.4 1340.2,294.9 1321.2,293.5 1299.3,290.6 1277.3,291.3 1262.7,292.7 1248.1,294.2 1218.9,293.5 1175.0,294.9 1143.1,296.4 1113.9,294.9 1100.0,293.0" fill="#1E95FB" stroke="#16324f" stroke-width="0.45" stroke-opacity="0.6" stroke-linejoin="round"/>
<polygon points="1150.0,294.8 1162.0,292.0 1172.0,286.5 1180.0,283.3 1187.0,282.8 1204.0,287.6 1218.0,290.3 1233.5,292.0 1245.0,293.8 1245.0,294.2 1218.9,293.5 1175.0,294.9 1150.0,296.0" fill="#6FBDFB" stroke="#16324f" stroke-width="0.45" stroke-opacity="0.6" stroke-linejoin="round"/>
<polygon points="1160.0,295.0 1170.0,291.5 1180.0,287.3 1187.0,286.6 1204.0,290.2 1218.0,292.3 1230.0,293.3 1230.0,293.8 1218.9,293.5 1175.0,294.9 1160.0,295.6" fill="#93CDFB" stroke="#16324f" stroke-width="0.45" stroke-opacity="0.6" stroke-linejoin="round"/>
<polygon points="1168.0,295.0 1178.0,291.3 1187.0,290.2 1204.0,292.2 1216.0,293.2 1216.0,293.6 1175.0,294.9 1168.0,295.3" fill="#B4DCFB" stroke="#16324f" stroke-width="0.45" stroke-opacity="0.6" stroke-linejoin="round"/>
<polygon points="1242.5,278.1 1249.8,274.5 1260.0,265.0 1269.7,260.1 1269.9,265.0 1277.3,265.0 1283.2,265.7 1275.0,271.0 1262.0,277.0 1252.0,281.5 1240.0,282.5" fill="#5BB4FB" stroke="#16324f" stroke-width="0.45" stroke-opacity="0.6" stroke-linejoin="round"/>
<polyline points="1113.9,289.1 1143.1,288.4 1157.7,284.5 1169.4,274.8 1179.7,262.4 1187.0,263.3 1201.6,269.6 1216.2,275.9 1230.8,280.7 1242.5,282.4 1249.8,279.8 1260.0,272.6 1269.7,268.7" fill="none" stroke="#16324f" stroke-opacity="0.6" stroke-width="0.45"/>
<polyline points="1113.9,290.7 1143.1,290.6 1157.7,287.5 1169.4,280.3 1179.7,271.2 1187.0,271.9 1201.6,276.3 1216.2,280.8 1230.8,284.3 1242.5,285.6 1249.8,283.7 1260.0,278.1 1269.7,275.1" fill="none" stroke="#16324f" stroke-opacity="0.6" stroke-width="0.45"/>
<polyline points="1113.9,291.4 1143.1,291.6 1157.7,288.9 1169.4,282.9 1179.7,275.2 1187.0,275.7 1201.6,279.3 1216.2,282.9 1230.8,285.9 1242.5,287.0 1249.8,285.4 1260.0,280.7 1269.7,278.0" fill="none" stroke="#16324f" stroke-opacity="0.6" stroke-width="0.45"/>
<polyline points="1048.0,284.4 1062.3,286.6 1076.2,288.6 1095.0,289.6 1113.9,289.8 1143.0,289.6" fill="none" stroke="#101c2c" stroke-opacity="0.75" stroke-width="0.6"/>
<polyline points="1062.3,287.3 1076.2,289.4 1095.0,290.8 1113.9,291.4" fill="none" stroke="#101c2c" stroke-opacity="0.6" stroke-width="0.5"/>
<polyline points="781.8,345.7 784.1,343.9 786.8,348.4 789.5,352.5 794.0,352.0 797.7,349.2 801.3,348.1 804.0,351.3 807.6,354.9 810.3,356.5 811.8,354.9 813.9,357.4 851.9,357.4 854.7,354.1 856.5,348.4 858.3,337.2 860.1,326.7 861.9,321.8 864.7,319.1 867.3,316.2 869.7,312.2 871.0,305.0 871.4,300.1 871.6,274.6 872.9,250.8 873.7,206.5 875.7,189.5 881.5,143.5 885.5,105.2 887.3,95.8 888.8,90.4 889.5,88.8 890.3,90.4 891.8,95.8 893.8,105.2 896.6,143.5 899.2,189.5 901.9,206.5 904.6,238.7 907.2,250.8 909.3,264.5 912.7,275.6 914.1,276.9 916.2,272.5 917.6,281.8 920.5,296.8 921.8,298.1 923.9,302.4 926.7,301.7 928.0,303.7 931.6,303.4 935.2,307.4 938.8,311.7 942.5,313.3 944.3,310.6 947.0,310.6 948.8,316.2 952.4,321.1 956.9,323.0 960.6,322.3 966.0,323.4 972.3,322.3 976.8,324.0 980.5,329.1 984.1,332.3 987.7,330.7 991.3,327.8 994.9,329.9 999.5,333.9 1004.0,335.5 1006.7,340.4 1009.5,347.6 1012.2,351.3 1014.8,346.8 1017.6,343.6 1019.8,342.7 1023.4,345.4 1029.8,347.2 1034.3,350.3 1037.9,356.3 1041.5,357.6 1044.2,356.3 1046.9,349.1" fill="none" stroke="#111" stroke-width="1.5" stroke-linejoin="round" stroke-linecap="round"/>
<circle cx="795.8" cy="307.6" r="2.45" fill="none" stroke="#F2262B" stroke-width="1.6"/>
<circle cx="809.7" cy="308.0" r="2.45" fill="none" stroke="#F2262B" stroke-width="1.6"/>
<circle cx="823.4" cy="306.3" r="2.45" fill="none" stroke="#F2262B" stroke-width="1.6"/>
<circle cx="837.2" cy="291.9" r="2.45" fill="none" stroke="#F2262B" stroke-width="1.6"/>
<circle cx="851.1" cy="266.4" r="2.45" fill="none" stroke="#F2262B" stroke-width="1.6"/>
<circle cx="865.0" cy="232.1" r="2.45" fill="none" stroke="#F2262B" stroke-width="1.6"/>
<circle cx="878.8" cy="91.6" r="2.45" fill="none" stroke="#F2262B" stroke-width="1.6"/>
<circle cx="892.6" cy="83.6" r="2.45" fill="none" stroke="#F2262B" stroke-width="1.6"/>
<circle cx="906.4" cy="162.9" r="2.45" fill="none" stroke="#F2262B" stroke-width="1.6"/>
<circle cx="920.0" cy="207.8" r="2.45" fill="none" stroke="#F2262B" stroke-width="1.6"/>
<circle cx="934.0" cy="232.4" r="2.45" fill="none" stroke="#F2262B" stroke-width="1.6"/>
<circle cx="947.8" cy="247.2" r="2.45" fill="none" stroke="#F2262B" stroke-width="1.6"/>
<circle cx="961.7" cy="255.0" r="2.45" fill="none" stroke="#F2262B" stroke-width="1.6"/>
<circle cx="975.5" cy="264.2" r="2.45" fill="none" stroke="#F2262B" stroke-width="1.6"/>
<circle cx="989.6" cy="271.4" r="2.45" fill="none" stroke="#F2262B" stroke-width="1.6"/>
<circle cx="1003.5" cy="276.7" r="2.45" fill="none" stroke="#F2262B" stroke-width="1.6"/>
<circle cx="1017.3" cy="280.6" r="2.45" fill="none" stroke="#F2262B" stroke-width="1.6"/>
<circle cx="1031.2" cy="284.3" r="2.45" fill="none" stroke="#F2262B" stroke-width="1.6"/>
<circle cx="1045.0" cy="287.0" r="2.45" fill="none" stroke="#F2262B" stroke-width="1.6"/>
<circle cx="1058.9" cy="289.1" r="2.45" fill="none" stroke="#F2262B" stroke-width="1.6"/>
<circle cx="1072.7" cy="289.6" r="2.45" fill="none" stroke="#F2262B" stroke-width="1.6"/>
<circle cx="806.0" cy="307.7" r="2.45" fill="none" stroke="#2DBE2D" stroke-width="1.6"/>
<circle cx="812.9" cy="305.6" r="2.45" fill="none" stroke="#2DBE2D" stroke-width="1.6"/>
<circle cx="819.9" cy="302.2" r="2.45" fill="none" stroke="#2DBE2D" stroke-width="1.6"/>
<circle cx="826.8" cy="299.7" r="2.45" fill="none" stroke="#2DBE2D" stroke-width="1.6"/>
<circle cx="833.7" cy="298.1" r="2.45" fill="none" stroke="#2DBE2D" stroke-width="1.6"/>
<circle cx="840.6" cy="297.0" r="2.45" fill="none" stroke="#2DBE2D" stroke-width="1.6"/>
<circle cx="847.5" cy="291.8" r="2.45" fill="none" stroke="#2DBE2D" stroke-width="1.6"/>
<circle cx="854.5" cy="271.9" r="2.45" fill="none" stroke="#2DBE2D" stroke-width="1.6"/>
<circle cx="861.4" cy="248.4" r="2.45" fill="none" stroke="#2DBE2D" stroke-width="1.6"/>
<circle cx="868.3" cy="222.4" r="2.45" fill="none" stroke="#2DBE2D" stroke-width="1.6"/>
<circle cx="875.2" cy="143.1" r="2.45" fill="none" stroke="#2DBE2D" stroke-width="1.6"/>
<circle cx="882.2" cy="53.8" r="2.45" fill="none" stroke="#2DBE2D" stroke-width="1.6"/>
<circle cx="889.1" cy="42.7" r="2.45" fill="none" stroke="#2DBE2D" stroke-width="1.6"/>
<circle cx="896.0" cy="80.4" r="2.45" fill="none" stroke="#2DBE2D" stroke-width="1.6"/>
<circle cx="903.0" cy="125.1" r="2.45" fill="none" stroke="#2DBE2D" stroke-width="1.6"/>
<circle cx="909.9" cy="161.6" r="2.45" fill="none" stroke="#2DBE2D" stroke-width="1.6"/>
<circle cx="916.8" cy="188.2" r="2.45" fill="none" stroke="#2DBE2D" stroke-width="1.6"/>
<circle cx="923.7" cy="207.1" r="2.45" fill="none" stroke="#2DBE2D" stroke-width="1.6"/>
<circle cx="930.6" cy="222.5" r="2.45" fill="none" stroke="#2DBE2D" stroke-width="1.6"/>
<circle cx="937.6" cy="232.4" r="2.45" fill="none" stroke="#2DBE2D" stroke-width="1.6"/>
<circle cx="944.5" cy="240.2" r="2.45" fill="none" stroke="#2DBE2D" stroke-width="1.6"/>
<circle cx="951.4" cy="246.8" r="2.45" fill="none" stroke="#2DBE2D" stroke-width="1.6"/>
<circle cx="958.4" cy="251.8" r="2.45" fill="none" stroke="#2DBE2D" stroke-width="1.6"/>
<circle cx="965.3" cy="256.0" r="2.45" fill="none" stroke="#2DBE2D" stroke-width="1.6"/>
<circle cx="972.2" cy="260.2" r="2.45" fill="none" stroke="#2DBE2D" stroke-width="1.6"/>
<circle cx="979.1" cy="263.9" r="2.45" fill="none" stroke="#2DBE2D" stroke-width="1.6"/>
<circle cx="986.0" cy="267.2" r="2.45" fill="none" stroke="#2DBE2D" stroke-width="1.6"/>
<circle cx="993.0" cy="270.6" r="2.45" fill="none" stroke="#2DBE2D" stroke-width="1.6"/>
<circle cx="999.9" cy="273.0" r="2.45" fill="none" stroke="#2DBE2D" stroke-width="1.6"/>
<circle cx="1006.8" cy="275.4" r="2.45" fill="none" stroke="#2DBE2D" stroke-width="1.6"/>
<circle cx="1013.8" cy="277.3" r="2.45" fill="none" stroke="#2DBE2D" stroke-width="1.6"/>
<circle cx="1020.7" cy="279.1" r="2.45" fill="none" stroke="#2DBE2D" stroke-width="1.6"/>
<circle cx="1027.6" cy="281.0" r="2.45" fill="none" stroke="#2DBE2D" stroke-width="1.6"/>
<circle cx="1034.5" cy="282.8" r="2.45" fill="none" stroke="#2DBE2D" stroke-width="1.6"/>
<circle cx="1041.5" cy="284.0" r="2.45" fill="none" stroke="#2DBE2D" stroke-width="1.6"/>
<circle cx="1048.4" cy="285.1" r="2.45" fill="none" stroke="#2DBE2D" stroke-width="1.6"/>
<circle cx="1055.3" cy="286.1" r="2.45" fill="none" stroke="#2DBE2D" stroke-width="1.6"/>
<circle cx="1062.2" cy="287.2" r="2.45" fill="none" stroke="#2DBE2D" stroke-width="1.6"/>
<circle cx="1069.2" cy="288.0" r="2.45" fill="none" stroke="#2DBE2D" stroke-width="1.6"/>
<circle cx="1076.1" cy="286.5" r="2.45" fill="none" stroke="#2DBE2D" stroke-width="1.6"/>
<circle cx="1083.0" cy="283.9" r="2.45" fill="none" stroke="#2DBE2D" stroke-width="1.6"/>
<rect x="793.3" y="37.5" width="8.4" height="7" fill="#D6EEFB"/>
<text x="823.1" y="44.5" textLength="154.0" lengthAdjust="spacingAndGlyphs" fill="#1f121f" stroke="#1f121f" stroke-width="0.2">ECMWF-ENS interquartile range</text>
<rect x="793.3" y="50.1" width="8.4" height="7" fill="#fff"/>
<text x="823.1" y="57.1" textLength="63.0" lengthAdjust="spacingAndGlyphs" fill="#1f121f" stroke="#1f121f" stroke-width="0.2">Observations</text>
<rect x="793.3" y="63.0" width="8.4" height="7" fill="#fff"/>
<text x="823.1" y="70.0" textLength="77.8" lengthAdjust="spacingAndGlyphs" fill="#1f121f" stroke="#1f121f" stroke-width="0.2">Initial conditions</text>
<rect x="793.3" y="75.6" width="8.4" height="7" fill="#fff"/>
<text x="823.1" y="82.6" textLength="69.0" lengthAdjust="spacingAndGlyphs" fill="#1f121f" stroke="#1f121f" stroke-width="0.2">Water balance</text>
<path d="M793.3 53.0h20.8" stroke="#000" stroke-width="1.6" fill="none"/>
<circle cx="804.2" cy="66.3" r="2.45" fill="none" stroke="#F2262B" stroke-width="1.6"/>
<circle cx="804.2" cy="78.8" r="2.45" fill="none" stroke="#2DBE2D" stroke-width="1.6"/>
<path d="M758.8 367.2V39.2" stroke="#626262" stroke-width="1.25" fill="none"/>
<path d="M752.2 367.2H759.3" stroke="#626262" stroke-width="1.25" fill="none"/>
<text transform="translate(744.2,367.8) rotate(-90)" text-anchor="middle" textLength="5.6" lengthAdjust="spacingAndGlyphs" fill="#2b2b2b" stroke="#2b2b2b" stroke-width="0.2">0</text>
<path d="M752.2 285.2H759.3" stroke="#626262" stroke-width="1.25" fill="none"/>
<text transform="translate(744.2,285.4) rotate(-90)" text-anchor="middle" textLength="17.2" lengthAdjust="spacingAndGlyphs" fill="#2b2b2b" stroke="#2b2b2b" stroke-width="0.2">500</text>
<path d="M752.2 203.2H759.3" stroke="#626262" stroke-width="1.25" fill="none"/>
<text transform="translate(744.2,203.2) rotate(-90)" text-anchor="middle" textLength="23.2" lengthAdjust="spacingAndGlyphs" fill="#2b2b2b" stroke="#2b2b2b" stroke-width="0.2">1000</text>
<path d="M752.2 121.2H759.3" stroke="#626262" stroke-width="1.25" fill="none"/>
<text transform="translate(744.2,120.9) rotate(-90)" text-anchor="middle" textLength="23.2" lengthAdjust="spacingAndGlyphs" fill="#2b2b2b" stroke="#2b2b2b" stroke-width="0.2">1500</text>
<path d="M752.2 39.2H759.3" stroke="#626262" stroke-width="1.25" fill="none"/>
<text transform="translate(744.2,39.4) rotate(-90)" text-anchor="middle" textLength="23.2" lengthAdjust="spacingAndGlyphs" fill="#2b2b2b" stroke="#2b2b2b" stroke-width="0.2">2000</text>
<text transform="translate(716.3,185.0) rotate(-90)" text-anchor="middle" textLength="38.4" lengthAdjust="spacingAndGlyphs" fill="#2b2b2b" stroke="#2b2b2b" stroke-width="0.2">Q [m<tspan font-size="6.3" dy="-3.6">3</tspan><tspan dy="3.6">/s]</tspan></text>
<path d="M785.5 372.3H1339.3" stroke="#626262" stroke-width="1.25" fill="none"/>
<path d="M785.5 371.8V379.1" stroke="#626262" stroke-width="1.25" fill="none"/>
<text x="785.5" y="395.2" text-anchor="middle" textLength="11" lengthAdjust="spacingAndGlyphs" fill="#F5333A" stroke="#F5333A" stroke-width="0.2">01</text>
<path d="M813.2 371.8V379.1" stroke="#626262" stroke-width="1.25" fill="none"/>
<text x="813.2" y="395.2" text-anchor="middle" textLength="11" lengthAdjust="spacingAndGlyphs" fill="#F5333A" stroke="#F5333A" stroke-width="0.2">02</text>
<path d="M840.9 371.8V379.1" stroke="#626262" stroke-width="1.25" fill="none"/>
<text x="840.9" y="395.2" text-anchor="middle" textLength="11" lengthAdjust="spacingAndGlyphs" fill="#2b2b2b" stroke="#2b2b2b" stroke-width="0.2">03</text>
<path d="M868.6 371.8V379.1" stroke="#626262" stroke-width="1.25" fill="none"/>
<text x="868.6" y="395.2" text-anchor="middle" textLength="11" lengthAdjust="spacingAndGlyphs" fill="#2b2b2b" stroke="#2b2b2b" stroke-width="0.2">04</text>
<path d="M896.3 371.8V379.1" stroke="#626262" stroke-width="1.25" fill="none"/>
<text x="896.3" y="395.2" text-anchor="middle" textLength="11" lengthAdjust="spacingAndGlyphs" fill="#2b2b2b" stroke="#2b2b2b" stroke-width="0.2">05</text>
<path d="M924.0 371.8V379.1" stroke="#626262" stroke-width="1.25" fill="none"/>
<text x="924.0" y="395.2" text-anchor="middle" textLength="11" lengthAdjust="spacingAndGlyphs" fill="#2b2b2b" stroke="#2b2b2b" stroke-width="0.2">06</text>
<path d="M951.6 371.8V379.1" stroke="#626262" stroke-width="1.25" fill="none"/>
<text x="951.6" y="395.2" text-anchor="middle" textLength="11" lengthAdjust="spacingAndGlyphs" fill="#2b2b2b" stroke="#2b2b2b" stroke-width="0.2">07</text>
<path d="M979.3 371.8V379.1" stroke="#626262" stroke-width="1.25" fill="none"/>
<text x="979.3" y="395.2" text-anchor="middle" textLength="11" lengthAdjust="spacingAndGlyphs" fill="#F5333A" stroke="#F5333A" stroke-width="0.2">08</text>
<path d="M1007.0 371.8V379.1" stroke="#626262" stroke-width="1.25" fill="none"/>
<text x="1007.0" y="395.2" text-anchor="middle" textLength="11" lengthAdjust="spacingAndGlyphs" fill="#F5333A" stroke="#F5333A" stroke-width="0.2">09</text>
<path d="M1034.7 371.8V379.1" stroke="#626262" stroke-width="1.25" fill="none"/>
<text x="1034.7" y="395.2" text-anchor="middle" textLength="11" lengthAdjust="spacingAndGlyphs" fill="#2b2b2b" stroke="#2b2b2b" stroke-width="0.2">10</text>
<path d="M1062.4 371.8V379.1" stroke="#626262" stroke-width="1.25" fill="none"/>
<text x="1062.4" y="395.2" text-anchor="middle" textLength="11" lengthAdjust="spacingAndGlyphs" fill="#2b2b2b" stroke="#2b2b2b" stroke-width="0.2">11</text>
<path d="M1090.1 371.8V379.1" stroke="#626262" stroke-width="1.25" fill="none"/>
<text x="1090.1" y="395.2" text-anchor="middle" textLength="11" lengthAdjust="spacingAndGlyphs" fill="#2b2b2b" stroke="#2b2b2b" stroke-width="0.2">12</text>
<path d="M1117.8 371.8V379.1" stroke="#626262" stroke-width="1.25" fill="none"/>
<text x="1117.8" y="395.2" text-anchor="middle" textLength="11" lengthAdjust="spacingAndGlyphs" fill="#2b2b2b" stroke="#2b2b2b" stroke-width="0.2">13</text>
<path d="M1145.5 371.8V379.1" stroke="#626262" stroke-width="1.25" fill="none"/>
<text x="1145.5" y="395.2" text-anchor="middle" textLength="11" lengthAdjust="spacingAndGlyphs" fill="#2b2b2b" stroke="#2b2b2b" stroke-width="0.2">14</text>
<path d="M1173.2 371.8V379.1" stroke="#626262" stroke-width="1.25" fill="none"/>
<text x="1173.2" y="395.2" text-anchor="middle" textLength="11" lengthAdjust="spacingAndGlyphs" fill="#F5333A" stroke="#F5333A" stroke-width="0.2">15</text>
<path d="M1200.8 371.8V379.1" stroke="#626262" stroke-width="1.25" fill="none"/>
<text x="1200.8" y="395.2" text-anchor="middle" textLength="11" lengthAdjust="spacingAndGlyphs" fill="#F5333A" stroke="#F5333A" stroke-width="0.2">16</text>
<path d="M1228.5 371.8V379.1" stroke="#626262" stroke-width="1.25" fill="none"/>
<text x="1228.5" y="395.2" text-anchor="middle" textLength="11" lengthAdjust="spacingAndGlyphs" fill="#2b2b2b" stroke="#2b2b2b" stroke-width="0.2">17</text>
<path d="M1256.2 371.8V379.1" stroke="#626262" stroke-width="1.25" fill="none"/>
<text x="1256.2" y="395.2" text-anchor="middle" textLength="11" lengthAdjust="spacingAndGlyphs" fill="#2b2b2b" stroke="#2b2b2b" stroke-width="0.2">18</text>
<path d="M1283.9 371.8V379.1" stroke="#626262" stroke-width="1.25" fill="none"/>
<text x="1283.9" y="395.2" text-anchor="middle" textLength="11" lengthAdjust="spacingAndGlyphs" fill="#2b2b2b" stroke="#2b2b2b" stroke-width="0.2">19</text>
<path d="M1311.6 371.8V379.1" stroke="#626262" stroke-width="1.25" fill="none"/>
<text x="1311.6" y="395.2" text-anchor="middle" textLength="11" lengthAdjust="spacingAndGlyphs" fill="#2b2b2b" stroke="#2b2b2b" stroke-width="0.2">20</text>
<path d="M1339.3 371.8V379.1" stroke="#626262" stroke-width="1.25" fill="none"/>
<text x="1339.3" y="395.2" text-anchor="middle" textLength="11" lengthAdjust="spacingAndGlyphs" fill="#2b2b2b" stroke="#2b2b2b" stroke-width="0.2">21</text>
<text x="1063.1" y="408.5" text-anchor="middle" textLength="33.6" lengthAdjust="spacingAndGlyphs" fill="#2b2b2b" stroke="#2b2b2b" stroke-width="0.2">August</text>
<text x="1280" y="34.5" textLength="70" lengthAdjust="spacingAndGlyphs" style="font-size:18px" stroke="none" fill="#000">EFAS 4.0</text>
</g>
<g id="watermark" fill="none" stroke="#4a4a8a" stroke-opacity="0.035" stroke-width="1.3" stroke-linejoin="round"><polyline points="445.3,64.0 443.7,54.8 442.5,34.1 438.4,25.8 432.3,16.2 428.1,8.5 419.6,-11.0 416.0,-26.8 404.0,-37.6 393.0,-38.7 383.3,-40.5"/><polyline points="576.3,229.3 569.7,221.1 560.6,206.8 549.9,195.3 541.3,193.4 524.1,196.9 512.3,200.6 498.1,203.2 481.0,211.7 469.8,213.8 454.5,215.0 438.1,207.2 416.6,203.9 403.7,209.1 393.6,209.4 385.1,209.8 366.7,206.1 347.4,200.2"/><polyline points="431.4,294.8 426.6,287.2 416.0,282.2 409.2,276.4 403.0,265.7 395.8,249.7 387.2,233.9 387.7,221.1 395.7,210.8 406.5,200.6 411.5,189.6 420.7,179.7 435.3,176.3 445.7,167.5 451.0,159.1 458.0,145.0 472.9,129.1 484.2,122.0 489.6,114.6"/><polyline points="208.0,279.2 219.2,274.9 229.2,263.1 238.7,255.0 245.3,236.1 259.4,226.3 273.2,222.5 293.9,227.7 307.8,235.4 320.4,240.1 333.3,244.6 355.0,242.4 364.3,240.7 373.8,240.3 389.3,241.1 402.2,251.6 413.0,252.4 429.8,250.9 443.9,259.4"/><polyline points="652.0,48.9 639.7,50.2 624.4,60.6 610.2,64.5 595.0,64.4 575.4,72.9 560.8,82.9 542.2,83.3 526.0,88.4 513.3,103.6 499.7,119.2 494.2,128.8 486.0,141.5 474.5,153.4 457.3,160.7 449.6,169.0 438.7,184.8"/><polyline points="274.9,208.9 279.0,194.9 276.7,178.6 269.9,160.5 269.3,147.7 274.5,140.2 275.4,125.7 273.0,111.1 281.1,96.7 277.2,76.3"/><polyline points="473.0,272.7 489.9,264.2 504.5,262.5 520.6,252.3 534.0,238.5 547.4,236.6 567.9,230.8 578.2,231.2 587.2,226.5 606.4,228.1 624.3,220.2"/><polyline points="1347.9,278.7 1342.6,285.0 1326.2,293.0 1316.4,308.6 1315.2,330.4 1322.5,349.3 1331.9,354.9 1348.0,364.5 1362.9,369.1 1369.3,375.2 1378.6,393.6 1383.2,412.4 1387.5,431.5 1384.5,440.9 1387.2,455.8 1380.8,473.6 1371.8,490.2 1371.7,500.1"/><polyline points="851.3,51.0 864.7,57.2 878.6,72.1 889.1,74.1 897.5,70.1 904.8,66.0 913.7,66.4 934.9,62.0 945.7,61.5 959.8,56.1 974.9,57.0 989.6,52.7 1010.0,57.6 1023.8,72.7 1036.9,78.4 1049.8,82.4 1067.2,83.0 1078.1,82.4"/><polyline points="416.3,51.9 409.7,32.6 413.2,22.1 424.3,14.3 442.0,1.4 452.1,-0.3 466.8,-4.2 476.3,-9.2 489.7,-21.5 492.1,-37.0 492.7,-45.3 490.0,-61.8 488.8,-70.6 498.4,-87.0 507.2,-90.4"/><polyline points="365.2,16.8 375.2,0.1 390.1,-8.9 403.8,-7.8 418.8,-5.7 431.3,-4.1 450.2,-7.6 466.8,-19.6 471.6,-26.3 472.2,-38.0 474.3,-48.9 473.1,-58.5 457.1,-73.5 440.4,-85.9"/><polyline points="854.8,18.3 859.4,7.6 858.5,-13.4 860.6,-28.7 856.7,-42.4 856.3,-54.2 864.7,-74.5 862.6,-82.5 857.2,-103.5 854.6,-114.6 849.5,-131.1"/><polyline points="893.9,278.4 886.7,268.4 877.1,262.5 856.9,260.0 848.0,255.7 838.7,236.0 839.0,227.8 843.2,207.9 844.2,199.2 848.7,186.6 856.1,166.4 864.4,150.7 862.8,140.3 859.2,133.1 851.5,123.1 851.7,110.6"/><polyline points="47.4,374.1 57.8,382.4 69.9,391.3 84.6,394.6 95.0,389.2 101.8,377.4 100.8,369.2 96.4,358.8 92.2,343.9 93.5,326.8 101.0,307.9 103.8,295.6"/><polyline points="1354.0,63.4 1339.9,49.7 1335.7,33.4 1337.1,14.1 1330.7,0.2 1322.6,-17.8 1322.7,-37.4 1325.1,-57.7 1331.7,-74.2 1331.6,-82.6 1325.2,-94.0 1307.9,-103.5"/><polyline points="768.0,266.2 762.2,260.5 755.5,243.3 749.8,228.9 748.5,220.1 750.6,208.7 745.9,198.0 744.9,187.2 750.1,166.2 753.3,153.2 756.8,136.0 766.0,122.1 772.3,115.6"/><polyline points="202.7,107.7 204.0,97.9 205.5,83.2 212.0,76.4 217.3,62.5 224.7,53.0 235.5,37.7 250.6,33.6 258.5,28.9 268.7,22.4 274.7,8.6 294.3,-1.3 311.1,-13.5 320.2,-13.8"/><polyline points="124.2,316.9 132.5,334.6 140.9,353.1 142.5,364.3 136.6,377.8 138.6,385.6 142.3,399.4 147.5,408.0 156.0,417.0 158.2,424.7 156.9,444.4 166.3,463.2 169.7,483.5 175.5,495.3 188.1,513.4"/><polyline points="810.1,152.9 798.2,152.4 783.8,161.9 774.5,165.8 760.9,162.1 742.0,162.0 729.2,156.5 711.1,161.2 692.4,168.9 682.1,172.3 669.1,188.9 660.5,203.1 659.8,223.3 659.5,244.1"/><polyline points="756.4,72.4 743.9,85.8 732.3,87.5 720.2,86.7 706.8,84.7 697.0,88.0 681.6,101.7 673.3,109.1 651.7,112.7 642.0,115.0 634.7,120.7 628.8,127.8 625.1,138.9 616.9,157.5"/><polyline points="1030.8,175.0 1023.9,184.6 1011.5,193.0 1000.0,199.1 985.0,202.6 965.4,199.1 946.4,206.9 931.9,215.9 922.1,223.4 901.0,227.9 890.6,237.2 872.6,244.0 858.4,239.7 838.3,246.0 823.6,241.6 809.8,238.0 800.9,231.3 779.5,227.9"/><polyline points="149.7,350.0 135.1,338.1 125.3,338.2 116.8,337.5 96.9,329.5 83.8,321.4 67.2,312.9 55.0,314.0 45.8,308.5 27.1,304.8 13.5,312.3 1.8,310.0 -17.9,311.2 -31.9,317.6 -39.8,320.5 -54.9,328.5 -59.7,338.0"/><polyline points="1216.7,274.4 1232.1,288.6 1240.0,291.6 1253.8,293.4 1263.7,297.5 1276.4,310.8 1283.9,318.7 1285.2,331.0 1281.3,341.5 1282.1,360.2 1289.0,380.4 1292.5,390.4 1301.6,400.8"/><polyline points="914.8,402.3 922.7,404.7 935.3,410.5 943.2,417.5 957.5,428.4 966.3,432.1 976.5,430.1 990.3,420.0 1002.4,411.9 1014.3,398.1 1034.5,390.0 1043.0,385.8 1047.5,377.8 1055.6,359.1 1064.4,342.7 1070.3,324.9"/><polyline points="424.5,340.9 439.9,342.8 452.4,343.4 466.0,348.9 475.7,355.1 485.8,364.3 498.0,372.1 502.8,379.5 510.3,384.3 520.2,392.9 539.1,402.8 557.3,399.9 578.2,402.2 596.0,399.0 615.3,398.3 622.7,403.2 627.5,411.4"/><polyline points="983.9,197.5 997.1,183.2 1000.5,168.6 991.2,149.8 979.4,136.6 968.7,132.8 959.3,121.8 954.1,106.3 950.1,93.4 940.5,83.7 932.6,71.2 927.6,62.3 922.2,54.5 906.6,48.5"/><polyline points="286.5,178.5 295.0,173.5 312.0,162.2 321.0,149.5 336.7,139.4 348.6,137.3 359.0,131.7 366.8,123.1 373.2,114.7 376.5,103.2 384.5,96.2 387.3,85.0 385.6,69.8 386.5,60.4 386.9,51.9 374.6,35.6 362.4,28.2"/><polyline points="514.1,371.8 525.2,390.3 533.9,409.5 545.4,426.0 552.6,435.1 558.6,455.5 570.8,466.4 577.7,475.1 585.2,481.6 596.2,485.0"/><polyline points="824.2,276.3 822.1,289.9 822.5,306.5 827.4,313.4 836.0,325.4 849.1,339.4 854.2,348.2 862.0,363.5 868.8,373.1 867.7,390.4"/><polyline points="574.5,21.8 573.3,13.6 577.6,-5.1 583.1,-17.4 589.3,-37.7 591.3,-47.7 588.2,-56.4 585.2,-69.2 586.7,-78.9 582.1,-87.8 581.4,-101.3 582.6,-122.2 586.5,-131.9 588.3,-142.0 585.8,-150.6"/><polyline points="527.6,319.5 527.4,299.8 514.8,283.3 501.7,273.2 495.6,266.2 488.4,250.2 490.5,233.3 500.2,219.8 507.8,212.2 518.6,200.5 520.8,179.5 516.0,167.3 499.6,153.4"/><polyline points="1121.5,81.7 1132.6,75.7 1144.0,67.0 1162.7,64.0 1175.0,64.6 1187.8,60.6 1201.1,53.5 1205.9,47.0 1219.9,43.3 1235.6,37.9"/><polyline points="1126.1,354.7 1124.4,345.0 1122.0,336.1 1116.8,321.8 1102.7,312.6 1084.4,312.7 1070.3,307.0 1055.7,310.6 1036.2,319.1 1024.1,335.0 1006.3,339.1 995.8,336.9 986.5,325.3 985.6,304.5 976.3,287.9 977.1,279.0"/><polyline points="482.5,320.6 497.6,332.9 512.3,335.6 520.2,343.2 533.8,349.6 542.2,351.2 552.1,348.6 568.5,354.6 574.9,362.8 577.5,372.1 581.2,388.5 589.4,407.0 594.9,422.2 593.0,431.5 580.0,442.2 567.2,456.4 558.6,476.5 552.1,487.8 541.2,496.8"/></g>
<g fill="#4a4a9a" fill-opacity="0.04"><rect x="242" y="312" width="5" height="5"/><rect x="66" y="344" width="5" height="5"/><rect x="348" y="268" width="5" height="5"/><rect x="1348" y="246" width="5" height="5"/><rect x="909" y="131" width="5" height="5"/><rect x="2" y="14" width="5" height="5"/><rect x="205" y="259" width="5" height="5"/><rect x="592" y="215" width="5" height="5"/><rect x="1227" y="55" width="5" height="5"/><rect x="311" y="274" width="5" height="5"/><rect x="31" y="1" width="5" height="5"/><rect x="486" y="45" width="5" height="5"/><rect x="489" y="94" width="5" height="5"/><rect x="800" y="247" width="5" height="5"/><rect x="280" y="262" width="5" height="5"/><rect x="651" y="57" width="5" height="5"/><rect x="1283" y="102" width="5" height="5"/><rect x="205" y="40" width="5" height="5"/><rect x="874" y="366" width="5" height="5"/><rect x="1072" y="169" width="5" height="5"/><rect x="362" y="5" width="5" height="5"/><rect x="884" y="236" width="5" height="5"/></g>
<path d="M720 3.3H1375" stroke="#d8d8d8" stroke-opacity="0.5" stroke-width="0.8"/>
<rect x="700" y="422" width="675" height="2" fill="#000" fill-opacity="0.035"/>
</svg>
</body></html>
